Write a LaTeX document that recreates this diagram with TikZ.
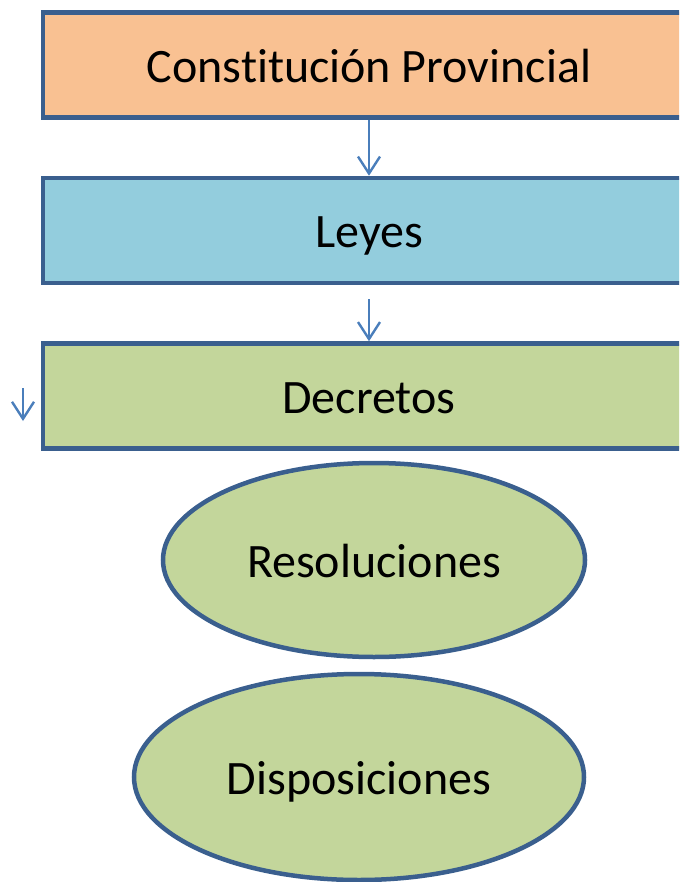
\documentclass[tikz,border=0pt]{standalone}
\usepackage{fontspec}
\setmainfont[Ligatures=NoCommon]{Carlito}
\usetikzlibrary{arrows.meta,shapes.geometric}
\definecolor{borde}{HTML}{3A5F8E}
\definecolor{flecha}{HTML}{4A7EBB}
\definecolor{naranja}{HTML}{F9C192}
\definecolor{celeste}{HTML}{93CDDD}
\definecolor{verde}{HTML}{C3D69B}
\begin{document}
\begin{tikzpicture}[
    x=1pt, y=-1pt,
    every node/.style={
        draw=borde,
        line width=4.5pt,
        font=\fontsize{48}{56}\selectfont,
        text height=34.5pt,
        text depth=0pt
    },
    caja/.style={
        rectangle,
        minimum width=652pt,
        minimum height=105pt
    },
    ovalo/.style={
        ellipse,
        fill=verde
    }
]
\useasboundingbox (0,0) rectangle (679,882);
\clip (0,0) rectangle (679,882);

% cajas
\node[caja, fill=naranja] (constitucion) at (369,65) {Constitución Provincial};
\node[caja, fill=celeste] (leyes) at (369,230.5) {Leyes};
\node[caja, fill=verde] (decretos) at (369,396) {Decretos};

% elipses
\node[ovalo, minimum width=422pt, minimum height=194pt] (resoluciones) at (374,560) {Resoluciones};
\node[ovalo, minimum width=450pt, minimum height=206pt] (disposiciones) at (359,777) {Disposiciones};

% flechas
\coordinate (a) at (23,388);
\coordinate (b) at (23,421);
\draw[-{Straight Barb[length=17pt,width=22pt]}, flecha, line width=2.4pt] (constitucion) -- (leyes);
\draw[-{Straight Barb[length=17pt,width=22pt]}, flecha, line width=2.4pt, shorten <=14pt] (leyes) -- (decretos);
\draw[-{Straight Barb[length=17pt,width=22pt]}, flecha, line width=2.4pt] (a) -- (b);

\end{tikzpicture}
\end{document}
